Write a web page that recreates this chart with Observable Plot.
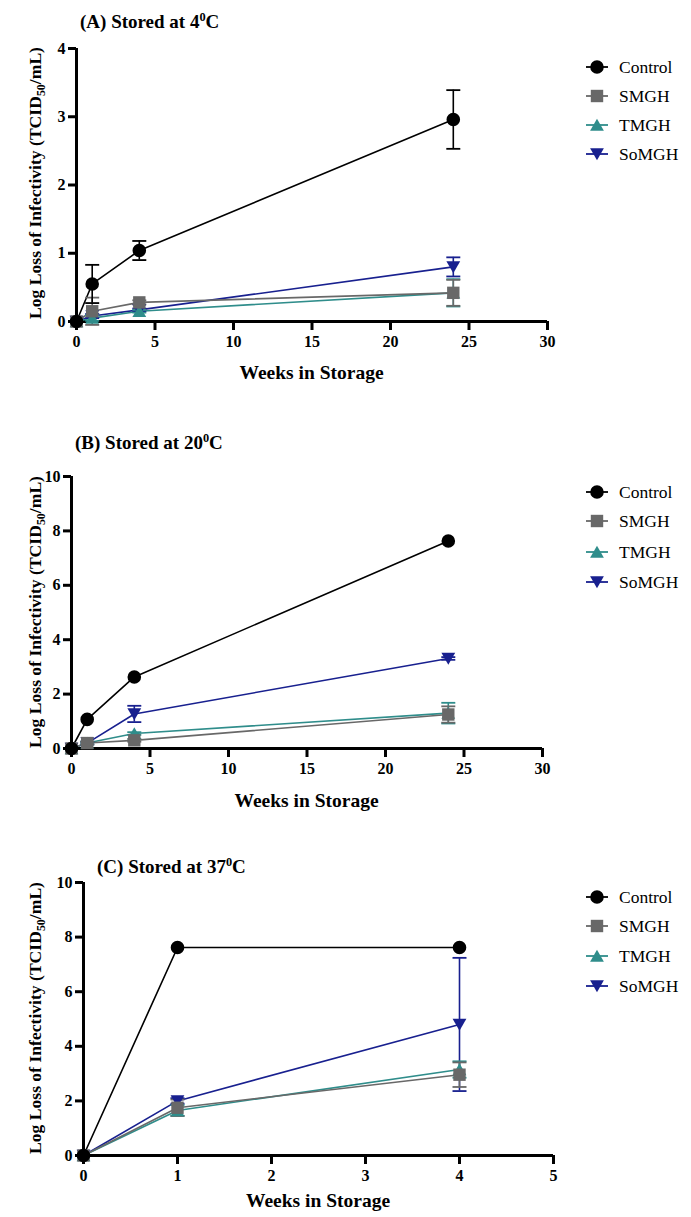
<!DOCTYPE html>
<html>
<head>
<meta charset="utf-8">
<script src="https://cdn.jsdelivr.net/npm/d3@7"></script>
<script src="https://cdn.jsdelivr.net/npm/@observablehq/plot@0.6"></script>
<style>
  html, body { margin: 0; padding: 0; background: #fff; }
  #root { position: relative; width: 691px; height: 1217px; overflow: hidden; font-family: "Liberation Serif", serif; color: #000; }
  .panel { position: absolute; left: 0; }
  .title { position: absolute; font-weight: bold; font-size: 19px; white-space: nowrap; transform: translateY(-50%); }
  .title sup { font-size: 0.65em; vertical-align: 0.55em; line-height: 0; }
  .xlab { position: absolute; font-weight: bold; font-size: 19.5px; white-space: nowrap; transform: translate(-50%, -50%); }
  .ylab { position: absolute; font-weight: bold; font-size: 17.6px; white-space: nowrap; transform: translate(-50%, -50%) rotate(-90deg); }
  .ylab .sub { font-size: 0.68em; vertical-align: -0.35em; line-height: 0; }
  .legend { position: absolute; left: 584px; font-size: 17.5px; }
  .legend .row { position: absolute; left: 0; height: 20px; white-space: nowrap; transform: translateY(-50%); display: flex; align-items: center; }
  .legend .row svg { display: block; margin-right: 9px; }
</style>
</head>
<body>
<div id="root"></div>
<script>
// ---------------- data ----------------
const series = ["Control", "SMGH", "TMGH", "SoMGH"];
const seriesColors = ["#000000", "#686868", "#2f8d8b", "#18208f"];

// Panel A: stored at 4 °C
const weeksA = [0, 1, 4, 24];
const controlA = [0, 0.55, 1.04, 2.96];
const controlAErr = [0, 0.28, 0.14, 0.43];
const smghA = [0, 0.15, 0.28, 0.42];
const smghAErr = [0, 0.2, 0.03, 0.19];
const tmghA = [0, 0.05, 0.15, 0.42];
const tmghAErr = [0, 0.04, 0.02, 0.2];
const somghA = [0, 0.08, 0.17, 0.80];
const somghAErr = [0, 0.03, 0.02, 0.14];

// Panel B: stored at 20 °C
const weeksB = [0, 1, 4, 24];
const controlB = [0, 1.07, 2.63, 7.63];
const controlBErr = [0, 0, 0, 0];
const smghB = [0, 0.2, 0.3, 1.25];
const smghBErr = [0, 0.05, 0.05, 0.3];
const tmghB = [0, 0.2, 0.55, 1.3];
const tmghBErr = [0, 0.05, 0.05, 0.38];
const somghB = [0, 0.2, 1.27, 3.31];
const somghBErr = [0, 0.05, 0.3, 0.05];

// Panel C: stored at 37 °C
const weeksC = [0, 1, 4];
const controlC = [0, 7.62, 7.62];
const controlCErr = [0, 0, 0];
const smghC = [0, 1.75, 2.96];
const smghCErr = [0, 0.3, 0.45];
const tmghC = [0, 1.65, 3.15];
const tmghCErr = [0, 0.2, 0.3];
const somghC = [0, 2.0, 4.8];
const somghCErr = [0, 0.1, 2.44];

// axis ticks
const xTicksAB = [0, 5, 10, 15, 20, 25, 30];
const yTicksA = [0, 1, 2, 3, 4];
const yTicksBC = [0, 2, 4, 6, 8, 10];
const xTicksC = [0, 1, 2, 3, 4, 5];

const panels = [
  {
    titleHTML: "(A) Stored at 4<sup>0</sup>C",
    weeks: weeksA,
    values: [controlA, smghA, tmghA, somghA],
    errors: [controlAErr, smghAErr, tmghAErr, somghAErr],
    xDomain: [0, 30], yDomain: [0, 4], xTicks: xTicksAB, yTicks: yTicksA,
    top: 0, height: 405, margin: {top: 48, bottom: 84, left: 76, right: 144},
    titlePos: [80, 22], xlabY: 373, ylab: [35, 183], legendRows: [67, 96, 125, 154]
  },
  {
    titleHTML: "(B) Stored at 20<sup>0</sup>C",
    weeks: weeksB,
    values: [controlB, smghB, tmghB, somghB],
    errors: [controlBErr, smghBErr, tmghBErr, somghBErr],
    xDomain: [0, 30], yDomain: [0, 10], xTicks: xTicksAB, yTicks: yTicksBC,
    top: 405, height: 405, margin: {top: 71, bottom: 62, left: 71, right: 149},
    titlePos: [75, 443], xlabY: 801, ylab: [35, 612], legendRows: [492, 521, 552, 582]
  },
  {
    titleHTML: "(C) Stored at 37<sup>0</sup>C",
    weeks: weeksC,
    values: [controlC, smghC, tmghC, somghC],
    errors: [controlCErr, smghCErr, tmghCErr, somghCErr],
    xDomain: [0, 5], yDomain: [0, 10], xTicks: xTicksC, yTicks: yTicksBC,
    top: 810, height: 407, margin: {top: 72, bottom: 62, left: 83, right: 138},
    titlePos: [97, 867], xlabY: 1201, ylab: [35, 1018], legendRows: [897, 926, 956, 986]
  }
];

// ---------------- symbols ----------------
const rOf = size => Math.sqrt(size / Math.PI);
const symCircle = {draw(ctx, size) { const r = rOf(size); ctx.moveTo(r, 0); ctx.arc(0, 0, r, 0, 2 * Math.PI); }};
const symSquare = {draw(ctx, size) { const h = rOf(size); ctx.rect(-h, -h, 2 * h, 2 * h); }};
const symTriUp = {draw(ctx, size) { const h = rOf(size); ctx.moveTo(0, -h * 1.05); ctx.lineTo(h * 1.15, h * 0.95); ctx.lineTo(-h * 1.15, h * 0.95); ctx.closePath(); }};
const symTriDown = {draw(ctx, size) { const h = rOf(size); ctx.moveTo(0, h * 1.05); ctx.lineTo(h * 1.15, -h * 0.95); ctx.lineTo(-h * 1.15, -h * 0.95); ctx.closePath(); }};
const symCap = {draw(ctx, size) { const h = rOf(size); ctx.moveTo(-h, 0); ctx.lineTo(h, 0); }};
const seriesSymbols = [symCircle, symSquare, symTriUp, symTriDown];
const seriesR = [6.8, 6.2, 6, 6];

const root = document.getElementById("root");
const FONT = "Liberation Serif, serif";

for (const p of panels) {
  const marks = [];
  // axes
  marks.push(Plot.axisY({ticks: p.yTicks, tickFormat: d => String(d), tickSize: 8, tickPadding: 3, strokeWidth: 3, label: null, fontSize: 16, fontWeight: "bold"}));
  marks.push(Plot.axisX({ticks: p.xTicks, tickFormat: d => String(d), tickSize: 9, tickPadding: 5, strokeWidth: 3, label: null, fontSize: 16, fontWeight: "bold"}));
  marks.push(Plot.ruleX([p.xDomain[0]], {stroke: "#000", strokeWidth: 3}));
  marks.push(Plot.ruleY([p.yDomain[0]], {stroke: "#000", strokeWidth: 3}));

  const rowsBySeries = series.map((s, i) => p.weeks.map((w, j) => ({series: s, week: w, value: p.values[i][j], err: p.errors[i][j]})));

  // lines
  for (let i = series.length - 1; i >= 0; i--) {
    marks.push(Plot.line(rowsBySeries[i], {x: "week", y: "value", stroke: seriesColors[i], strokeWidth: 1.6}));
  }
  // error bars
  for (let i = series.length - 1; i >= 0; i--) {
    const eb = rowsBySeries[i].filter(d => d.err > 0);
    marks.push(Plot.ruleX(eb, {x: "week", y1: d => d.value - d.err, y2: d => d.value + d.err, stroke: seriesColors[i], strokeWidth: 1.6}));
    marks.push(Plot.dot(eb, {x: "week", y: d => d.value + d.err, symbol: symCap, r: 7, stroke: seriesColors[i], strokeWidth: 1.8, fill: "none"}));
    marks.push(Plot.dot(eb, {x: "week", y: d => d.value - d.err, symbol: symCap, r: 7, stroke: seriesColors[i], strokeWidth: 1.8, fill: "none"}));
  }
  // markers
  for (let i = series.length - 1; i >= 0; i--) {
    marks.push(Plot.dot(rowsBySeries[i], {x: "week", y: "value", symbol: seriesSymbols[i], r: seriesR[i], fill: seriesColors[i], stroke: "none"}));
  }

  const svg = Plot.plot({
    width: 691,
    height: p.height,
    marginTop: p.margin.top,
    marginBottom: p.margin.bottom,
    marginLeft: p.margin.left,
    marginRight: p.margin.right,
    x: {domain: p.xDomain},
    y: {domain: p.yDomain},
    style: {fontFamily: FONT, fontSize: "16px", fontWeight: "bold", color: "#000", background: "transparent", overflow: "visible"},
    marks
  });
  const wrap = document.createElement("div");
  wrap.className = "panel";
  wrap.style.top = p.top + "px";
  wrap.appendChild(svg);
  root.appendChild(wrap);

  // title
  const t = document.createElement("div");
  t.className = "title";
  t.style.left = p.titlePos[0] + "px";
  t.style.top = p.titlePos[1] + "px";
  t.innerHTML = p.titleHTML;
  root.appendChild(t);

  // x label
  const xl = document.createElement("div");
  xl.className = "xlab";
  xl.style.left = ((p.margin.left + (691 - p.margin.right)) / 2) + "px";
  xl.style.top = p.xlabY + "px";
  xl.textContent = "Weeks in Storage";
  root.appendChild(xl);

  // y label
  const yl = document.createElement("div");
  yl.className = "ylab";
  yl.style.left = p.ylab[0] + "px";
  yl.style.top = p.ylab[1] + "px";
  yl.innerHTML = 'Log Loss of Infectivity (TCID<span class="sub">50</span>/mL)';
  root.appendChild(yl);

  // legend
  const lg = document.createElement("div");
  lg.className = "legend";
  lg.style.top = "0px";
  series.forEach((s, i) => {
    const row = document.createElement("div");
    row.className = "row";
    row.style.top = p.legendRows[i] + "px";
    const ns = "http://www.w3.org/2000/svg";
    const sv = document.createElementNS(ns, "svg");
    sv.setAttribute("width", 26); sv.setAttribute("height", 16);
    const ln = document.createElementNS(ns, "line");
    ln.setAttribute("x1", 2); ln.setAttribute("x2", 24); ln.setAttribute("y1", 8); ln.setAttribute("y2", 8);
    ln.setAttribute("stroke", seriesColors[i]); ln.setAttribute("stroke-width", 1.8);
    sv.appendChild(ln);
    const path = document.createElementNS(ns, "path");
    const ctx = d3.path();
    seriesSymbols[i].draw(ctx, seriesR[i] * seriesR[i] * Math.PI);
    path.setAttribute("d", ctx.toString());
    path.setAttribute("transform", "translate(13,8)");
    path.setAttribute("fill", seriesColors[i]);
    sv.appendChild(path);
    row.appendChild(sv);
    const tx = document.createElement("span");
    tx.textContent = s;
    row.appendChild(tx);
    lg.appendChild(row);
  });
  root.appendChild(lg);
}
</script>
</body>
</html>
